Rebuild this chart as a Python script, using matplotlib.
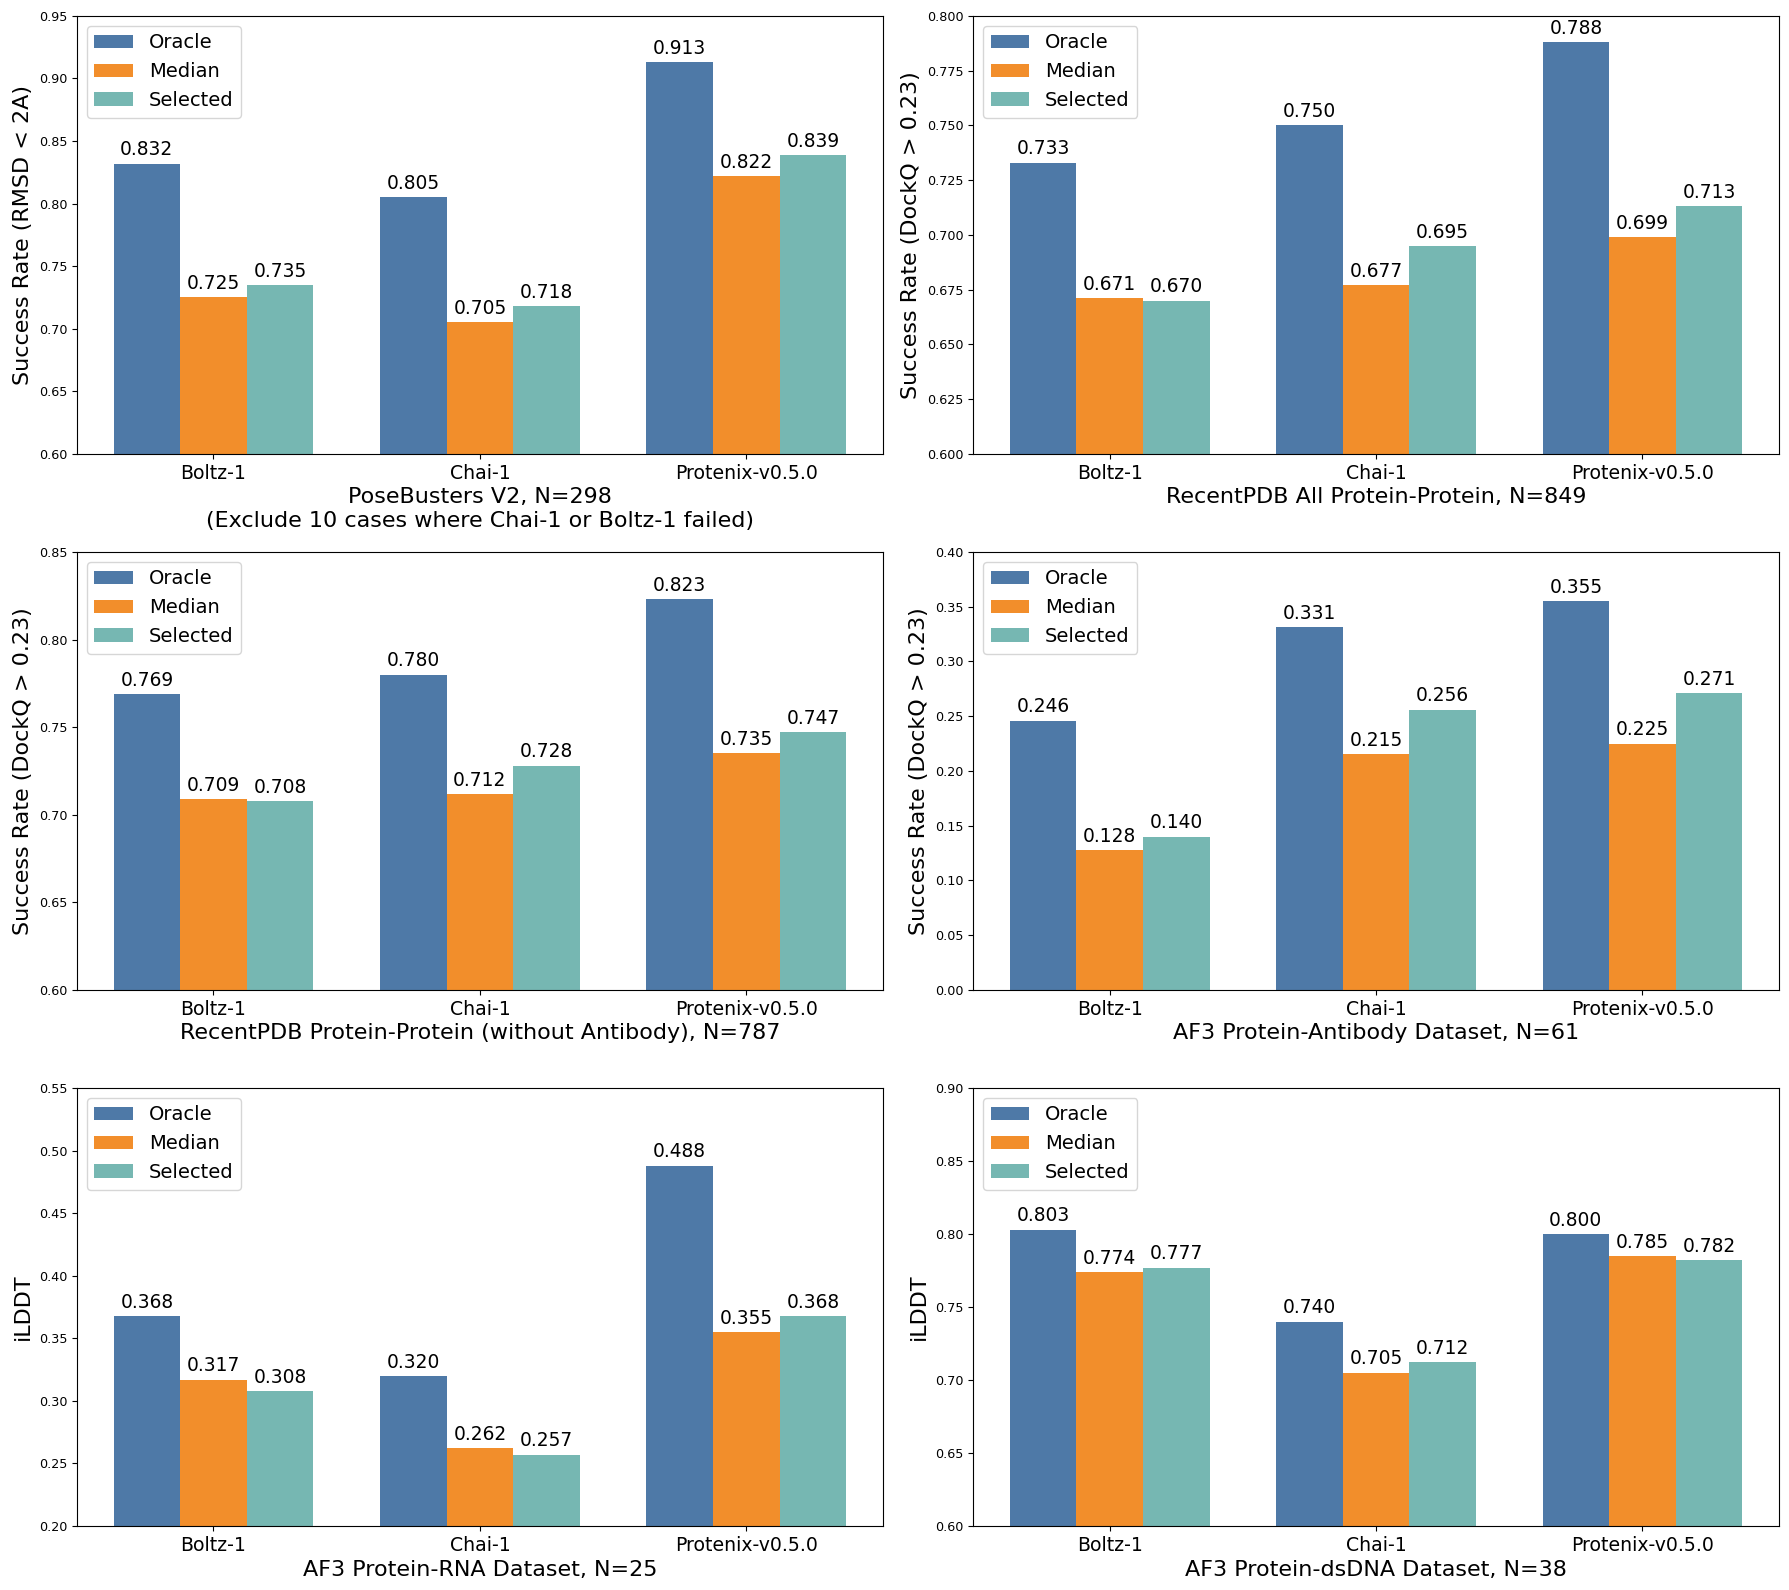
import matplotlib
matplotlib.use("Agg")
import matplotlib.pyplot as plt
import numpy as np

models = ["Boltz-1", "Chai-1", "Protenix-v0.5.0"]
series = ["Oracle", "Median", "Selected"]
colors = ["#4e79a7", "#f28e2b", "#76b7b2"]

pb_oracle = [0.832, 0.805, 0.913]
pb_median = [0.725, 0.705, 0.822]
pb_selected = [0.735, 0.718, 0.839]

rpdb_all_oracle = [0.733, 0.750, 0.788]
rpdb_all_median = [0.671, 0.677, 0.699]
rpdb_all_selected = [0.670, 0.695, 0.713]

rpdb_noab_oracle = [0.769, 0.780, 0.823]
rpdb_noab_median = [0.709, 0.712, 0.735]
rpdb_noab_selected = [0.708, 0.728, 0.747]

ab_oracle = [0.246, 0.331, 0.355]
ab_median = [0.128, 0.215, 0.225]
ab_selected = [0.140, 0.256, 0.271]

rna_oracle = [0.368, 0.320, 0.488]
rna_median = [0.317, 0.262, 0.355]
rna_selected = [0.308, 0.257, 0.368]

dna_oracle = [0.803, 0.740, 0.800]
dna_median = [0.774, 0.705, 0.785]
dna_selected = [0.777, 0.712, 0.782]

panels = [
    ([pb_oracle, pb_median, pb_selected], "Success Rate (RMSD < 2A)",
     "PoseBusters V2, N=298\n(Exclude 10 cases where Chai-1 or Boltz-1 failed)", (0.60, 0.95)),
    ([rpdb_all_oracle, rpdb_all_median, rpdb_all_selected], "Success Rate (DockQ > 0.23)",
     "RecentPDB All Protein-Protein, N=849", (0.60, 0.80)),
    ([rpdb_noab_oracle, rpdb_noab_median, rpdb_noab_selected], "Success Rate (DockQ > 0.23)",
     "RecentPDB Protein-Protein (without Antibody), N=787", (0.60, 0.85)),
    ([ab_oracle, ab_median, ab_selected], "Success Rate (DockQ > 0.23)",
     "AF3 Protein-Antibody Dataset, N=61", (0.0, 0.40)),
    ([rna_oracle, rna_median, rna_selected], "iLDDT",
     "AF3 Protein-RNA Dataset, N=25", (0.20, 0.55)),
    ([dna_oracle, dna_median, dna_selected], "iLDDT",
     "AF3 Protein-dsDNA Dataset, N=38", (0.60, 0.90)),
]

fig, axes = plt.subplots(3, 2, figsize=(17.89, 15.90), dpi=100)
fig.subplots_adjust(left=0.043, right=0.9944, top=0.990, bottom=0.0403, wspace=0.112, hspace=0.224)

x = np.arange(len(models))
w = 0.25
for ax, (vals, ylab, xlab, ylim) in zip(axes.flat, panels):
    for i, (name, v, c) in enumerate(zip(series, vals, colors)):
        bars = ax.bar(x + (i - 1) * w, v, w, label=name, color=c)
        for b, val in zip(bars, v):
            ax.annotate(f"{val:.3f}", (b.get_x() + b.get_width() / 2, b.get_height()),
                        xytext=(0, 3), textcoords="offset points",
                        ha="center", va="bottom", fontsize=13.4)
    ax.set_ylim(*ylim)
    ax.set_xticks(x)
    ax.set_xticklabels(models, fontsize=13.6)
    ax.tick_params(axis="y", labelsize=9.2)
    ax.set_ylabel(ylab, fontsize=16)
    ax.set_xlabel(xlab, fontsize=16, labelpad=3.5)
    ax.legend(loc="upper left", fontsize=14)

fig.savefig("out.png", dpi=100)
